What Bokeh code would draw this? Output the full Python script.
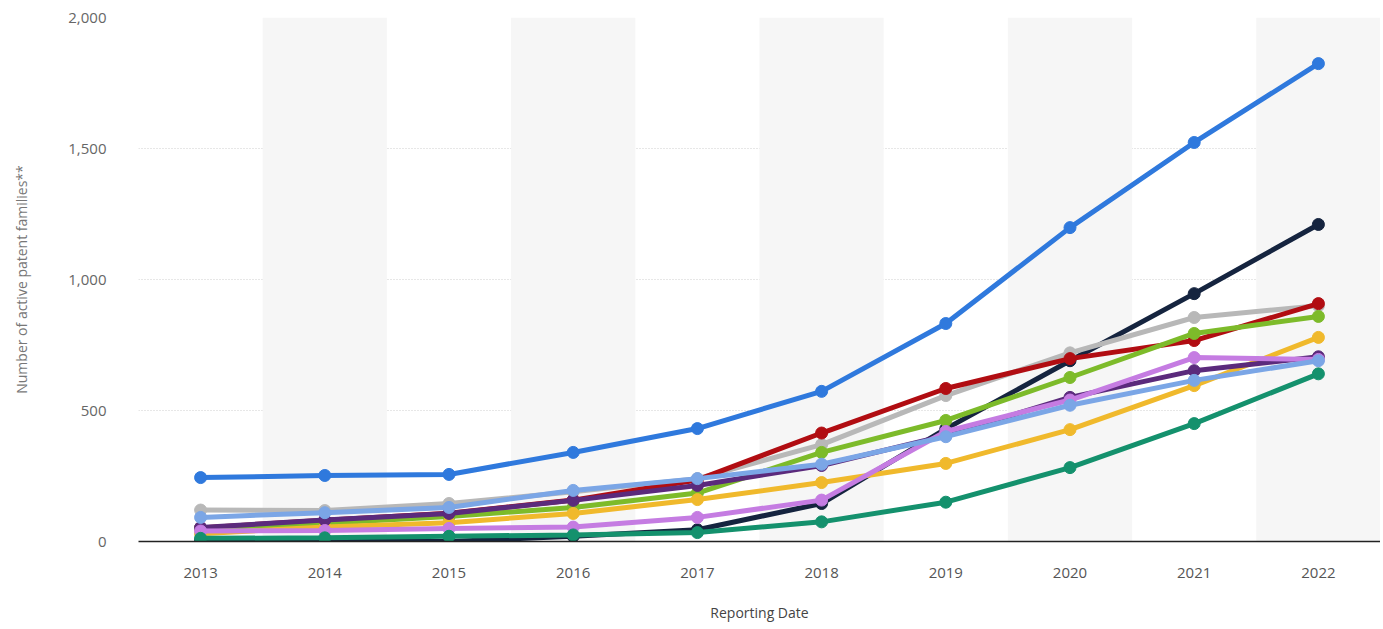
from bokeh.plotting import figure
from bokeh.models import BoxAnnotation, NumeralTickFormatter, FixedTicker
from bokeh.embed import file_html
from bokeh.resources import INLINE

years = [2013, 2014, 2015, 2016, 2017, 2018, 2019, 2020, 2021, 2022]

s_blue = [244, 252, 256, 340, 431, 573, 832, 1198, 1523, 1824]
s_navy = [5, 3, 0, 20, 45, 145, 430, 690, 946, 1210]
s_red = [52, 81, 108, 158, 235, 414, 584, 698, 767, 908]
s_gray = [120, 118, 145, 190, 240, 370, 557, 720, 855, 900]
s_green = [50, 70, 95, 130, 185, 340, 462, 626, 794, 859]
s_yellow = [30, 55, 72, 107, 160, 225, 298, 427, 595, 779]
s_purple = [53, 82, 107, 157, 214, 290, 405, 550, 652, 705]
s_violet = [40, 42, 50, 55, 92, 158, 420, 540, 702, 695]
s_lightblue = [92, 110, 130, 195, 240, 295, 400, 520, 615, 690]
s_teal = [12, 14, 20, 25, 34, 75, 150, 282, 450, 640]

# drawn bottom to top
series = [
    (s_navy, "#15243f"),
    (s_gray, "#b8b8b8"),
    (s_red, "#b10d12"),
    (s_green, "#7dbb2a"),
    (s_yellow, "#f0b92c"),
    (s_purple, "#5b2a7c"),
    (s_violet, "#c57ce2"),
    (s_lightblue, "#7ba6e6"),
    (s_teal, "#14916d"),
    (s_blue, "#2f79dd"),
]

p = figure(width=1380, height=624, output_backend="svg", toolbar_location=None,
           x_range=(2012.5, 2022.5), y_range=(0, 2000),
           min_border_left=138, min_border_right=0, min_border_top=17, min_border_bottom=10)

for i, yr in enumerate(years):
    if i % 2 == 1:
        p.add_layout(BoxAnnotation(left=yr - 0.5, right=yr + 0.5, fill_color="#f6f6f6",
                                   fill_alpha=1.0, line_alpha=0, level="underlay"))

for vals, col in series:
    p.line(years, vals, line_color=col, line_width=5)
    p.scatter(years, vals, size=12, fill_color=col, line_color=col)

p.outline_line_color = None
p.background_fill_color = "white"
p.border_fill_color = "white"

p.xgrid.grid_line_color = None
p.ygrid.grid_line_color = "#cfcfcf"
p.ygrid.grid_line_dash = "1 2"
p.ygrid.grid_line_width = 1

p.xaxis.ticker = FixedTicker(ticks=years)
p.xaxis.axis_line_color = "#222222"
p.xaxis.axis_line_width = 1.5
p.xaxis.major_tick_line_color = None
p.xaxis.minor_tick_line_color = None
p.xaxis.major_label_standoff = 20
p.xaxis.major_label_text_font = "Open Sans"
p.xaxis.major_label_text_font_size = "15px"
p.xaxis.major_label_text_color = "#555555"
p.xaxis.axis_label = "Reporting Date"
p.xaxis.axis_label_text_font = "Open Sans"
p.xaxis.axis_label_text_font_style = "normal"
p.xaxis.axis_label_text_font_size = "14px"
p.xaxis.axis_label_text_color = "#444444"
p.xaxis.axis_label_standoff = 22

p.yaxis.ticker = FixedTicker(ticks=[0, 500, 1000, 1500, 2000])
p.yaxis.formatter = NumeralTickFormatter(format="0,0")
p.yaxis.axis_line_color = None
p.yaxis.major_tick_line_color = None
p.yaxis.minor_tick_line_color = None
p.yaxis.major_label_standoff = 26
p.yaxis.major_label_text_font = "Open Sans"
p.yaxis.major_label_text_font_size = "15px"
p.yaxis.major_label_text_color = "#666666"
p.yaxis.axis_label = "Number of active patent families**"
p.yaxis.axis_label_text_font = "Open Sans"
p.yaxis.axis_label_text_font_style = "normal"
p.yaxis.axis_label_text_font_size = "14px"
p.yaxis.axis_label_text_color = "#777777"
p.yaxis.axis_label_standoff = 34

open("out.html", "w").write(file_html(p, INLINE))
